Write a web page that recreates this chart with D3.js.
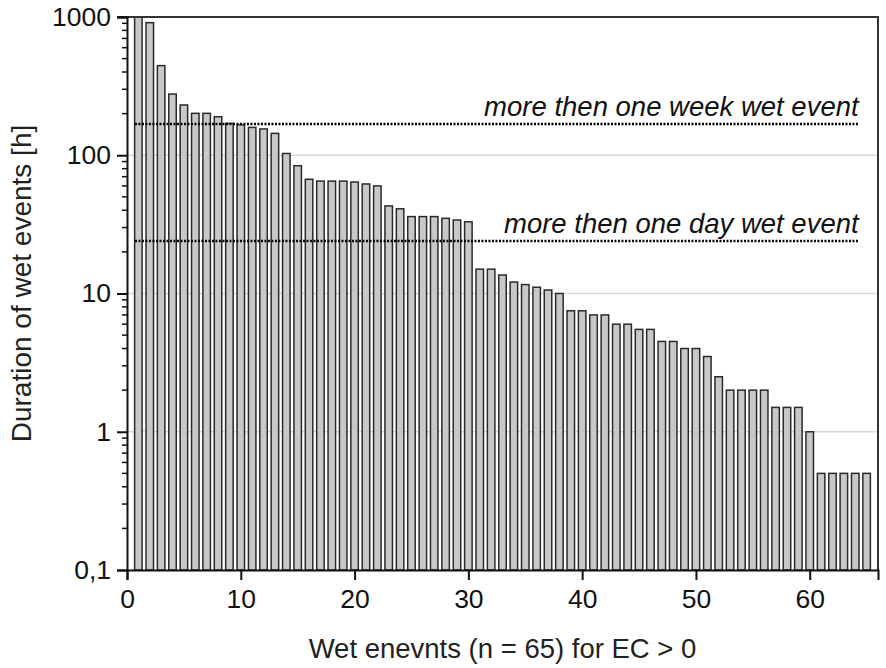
<!DOCTYPE html>
<html>
<head>
<meta charset="utf-8">
<script src="https://cdn.jsdelivr.net/npm/d3@7"></script>
<style>
  body { margin: 0; background: #fff; }
  svg { display: block; font-family: "Liberation Sans", Arial, sans-serif; }
</style>
</head>
<body>
<svg id="chart" width="886" height="668"></svg>
<script>
// event number (1..65) and duration in hours
const events = d3.range(1, 66)
const durations = [
    1000, 910, 445, 277, 231, 201, 201, 190, 170, 166,
    159, 155, 144, 103, 84, 67, 65, 65, 65, 64,
    62, 60, 43, 41, 36, 36, 36, 35, 34, 33,
    15, 15, 13.6, 12.1, 11.6, 11.1, 10.6, 10, 7.5, 7.5,
    7, 7, 6, 6, 5.5, 5.5, 4.5, 4.5, 4, 4,
    3.5, 2.5, 2, 2, 2, 2, 1.5, 1.5, 1.5, 1,
    0.5, 0.5, 0.5, 0.5, 0.5
]
const xTicks = [0, 10, 20, 30, 40, 50, 60]
const yTicks = [0.1, 1, 10, 100, 1000]
const yTickLabels = ["0,1", "1", "10", "100", "1000"]
const gridValues = [1, 10, 100]
const refValues = [168, 24]
const refLabels = ["more then one week wet event", "more then one day wet event"]

const svg = d3.select("#chart")
const margin = {top: 17, right: 8, bottom: 98, left: 127}
const width = 886 - margin.left - margin.right
const height = 668 - margin.top - margin.bottom

const x = d3.scaleLinear().domain([0, 66]).range([0, width])
const y = d3.scaleLog().domain([0.1, 1000]).range([height, 0])

const g = svg.append("g").attr("transform", `translate(${margin.left},${margin.top})`)

svg.append("defs").append("clipPath").attr("id", "clip")
    .append("rect").attr("x", 0).attr("y", 0).attr("width", width).attr("height", height)

// light grid at the decades
g.selectAll(".grid")
    .data(gridValues)
    .enter().append("line")
    .attr("class", "grid")
    .attr("x1", 0).attr("x2", width)
    .attr("y1", d => y(d)).attr("y2", d => y(d))
    .attr("stroke", "#d9d9d9")
    .attr("stroke-width", 1.5)

// bars
const barW = x(0.66) - x(0)
g.append("g").attr("clip-path", "url(#clip)")
    .selectAll("rect")
    .data(events)
    .enter().append("rect")
    .attr("x", d => x(d) - barW / 2)
    .attr("y", (d, i) => y(durations[i]))
    .attr("width", barW)
    .attr("height", (d, i) => height - y(durations[i]))
    .attr("fill", "#c8c8c8")
    .attr("stroke", "#2a2a2a")
    .attr("stroke-width", 1.5)

// frame (top and right)
g.append("path")
    .attr("d", `M-10,0H${width}V${height}`)
    .attr("fill", "none")
    .attr("stroke", "#333")
    .attr("stroke-width", 2)

// dotted threshold lines + labels
refValues.forEach((v, i) => {
    g.append("line")
        .attr("x1", x(0.7)).attr("x2", x(64.3))
        .attr("y1", y(v)).attr("y2", y(v))
        .attr("stroke", "#000")
        .attr("stroke-width", 2.5)
        .attr("stroke-dasharray", "2,1.5")
    g.append("text")
        .attr("x", x(64.3))
        .attr("y", y(v) - 8)
        .attr("text-anchor", "end")
        .attr("font-style", "italic")
        .attr("font-size", 27.5)
        .attr("fill", "#111")
        .text(refLabels[i])
})

// y axis
const yAxis = g.append("g")
    .call(d3.axisLeft(y)
        .tickValues(yTicks)
        .tickFormat((d, i) => yTickLabels[i])
        .tickSize(10)
        .tickPadding(6))
yAxis.select(".domain").attr("stroke", "#111").attr("stroke-width", 2)
yAxis.selectAll(".tick line").attr("stroke", "#111").attr("stroke-width", 2)
yAxis.selectAll("text").attr("font-size", 26.5).attr("fill", "#111")

// minor ticks
const minor = []
yTicks.slice(0, -1).forEach(t => d3.range(2, 10).forEach(k => minor.push(t * k)))
g.selectAll(".minor")
    .data(minor)
    .enter().append("line")
    .attr("x1", -5).attr("x2", 0)
    .attr("y1", d => y(d)).attr("y2", d => y(d))
    .attr("stroke", "#111")
    .attr("stroke-width", 1.5)

// x axis
const xAxis = g.append("g")
    .attr("transform", `translate(0,${height})`)
    .call(d3.axisBottom(x).tickValues(xTicks).tickSize(10).tickPadding(9))
xAxis.select(".domain").attr("stroke", "#111").attr("stroke-width", 2)
xAxis.selectAll(".tick line").attr("stroke", "#111").attr("stroke-width", 2)
xAxis.selectAll("text").attr("font-size", 26.5).attr("fill", "#111")

// axis titles
svg.append("text")
    .attr("x", margin.left + x(33))
    .attr("y", 658)
    .attr("text-anchor", "middle")
    .attr("font-size", 27.5)
    .attr("fill", "#222")
    .text("Wet enevnts (n = 65) for EC > 0")

svg.append("text")
    .attr("transform", `translate(31,${margin.top + height / 2 - 10}) rotate(-90)`)
    .attr("text-anchor", "middle")
    .attr("font-size", 28)
    .attr("fill", "#222")
    .text("Duration of wet events [h]")
</script>
</body>
</html>
